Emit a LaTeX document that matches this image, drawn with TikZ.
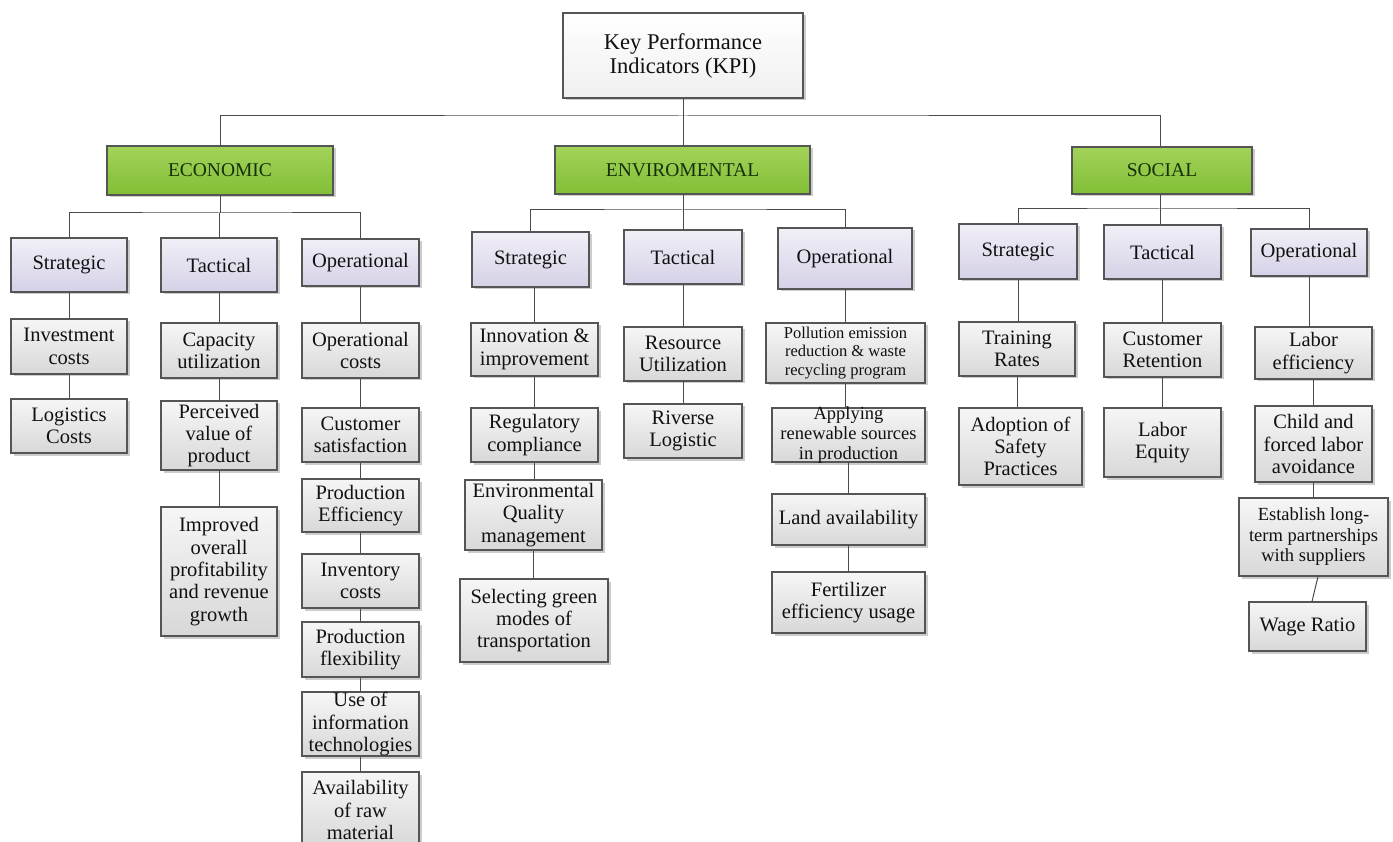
\documentclass[tikz,border=0pt]{standalone}
\usepackage{fontspec}
\setmainfont{Liberation Serif}
\usetikzlibrary{shadows}
\definecolor{bordc}{HTML}{555555}
\definecolor{linec}{HTML}{4A4A4A}
\definecolor{txtc}{HTML}{111111}
\definecolor{grnT}{HTML}{A2D35A}
\definecolor{grnB}{HTML}{82BE36}
\definecolor{grntxt}{HTML}{18300A}
\definecolor{lavT}{HTML}{F1EFF7}
\definecolor{lavB}{HTML}{D6D1E7}
\definecolor{leafT}{HTML}{F6F6F6}
\definecolor{leafB}{HTML}{D8D8D8}
\tikzset{
  base/.style={draw=bordc, line width=1.1pt, inner sep=0pt,
    drop shadow={shadow xshift=2.5pt, shadow yshift=-2.5pt, opacity=0.2, fill=black}},
  kpibox/.style={base, top color=white, bottom color=gray!12, line width=1.6pt},
  pillar/.style={base, top color=grnT, bottom color=grnB},
  level/.style={base, top color=lavT, bottom color=lavB},
  leaf/.style={base, top color=leafT, bottom color=leafB},
  boxtext/.style={align=center, inner sep=0pt, text=txtc, font=\fontsize{20.5}{22.3}\selectfont},
  pillartext/.style={text=grntxt, font=\fontsize{19.5}{21}\selectfont},
  link/.style={draw=linec, line width=1pt},
}
\newcommand\kbox[8][]{%
  \pgfmathsetmacro\kcx{(#4+#6)/2}%
  \pgfmathsetmacro\kcy{(#5+#7)/2}%
  \pgfmathsetmacro\kw{#6-#4}%
  \pgfmathsetmacro\kh{#7-#5}%
  \node[#2, minimum width=\kw pt, minimum height=\kh pt] (#3) at (\kcx,\kcy) {};%
  \node[boxtext,#1] (#3-t) at (#3.center) {#8};}
\newcommand\chain[2]{\draw[link] (#1.south) -- (#1.south |- #2.north);}
\begin{document}
\begin{tikzpicture}[x=1pt,y=-1pt]
\useasboundingbox (0,0) rectangle (1393,842);
\clip (0,0) rectangle (1393,842);
\fill[white] (0,0) rectangle (1393,842);

% root and pillars
\kbox[font=\fontsize{22.5}{24}\selectfont]{kpibox}{kpi}{563}{13}{803}{98}{Key Performance\\Indicators (KPI)}
\kbox[pillartext]{pillar}{eco}{107}{146}{333}{195}{ECONOMIC}
\kbox[pillartext]{pillar}{env}{555}{146}{810}{194}{ENVIROMENTAL}
\kbox[pillartext]{pillar}{soc}{1072}{147}{1252}{194}{SOCIAL}

% level 2
\kbox{level}{es}{11}{238}{127}{292}{Strategic}
\kbox{level}{et}{161}{238}{277}{292}{Tactical}
\kbox{level}{eo}{302}{239}{419}{286}{Operational}
\kbox{level}{ns}{472}{232}{589}{287}{Strategic}
\kbox{level}{nt}{624}{230}{742}{284}{Tactical}
\kbox{level}{no}{778}{228}{912}{289}{Operational}
\kbox{level}{ss}{959}{224}{1077}{279}{Strategic}
\kbox{level}{st}{1104}{225}{1221}{279}{Tactical}
\kbox{level}{so}{1251}{229}{1367}{276}{Operational}

% economic leaves
\kbox{leaf}{e1}{11}{319}{127}{374}{Investment\\costs}
\kbox{leaf}{e2}{11}{399}{127}{453}{Logistics\\Costs}
\kbox{leaf}{e3}{161}{323}{277}{378}{Capacity\\utilization}
\kbox{leaf}{e4}{161}{401}{277}{470}{Perceived\\value of\\product}
\kbox{leaf}{e5}{161}{507}{277}{636}{Improved\\overall\\profitability\\and revenue\\growth}
\kbox{leaf}{e6}{302}{323}{419}{378}{Operational\\costs}
\kbox{leaf}{e7}{302}{408}{419}{462}{Customer\\satisfaction}
\kbox{leaf}{e8}{302}{479}{419}{532}{Production\\Efficiency}
\kbox{leaf}{e9}{302}{554}{419}{608}{Inventory\\costs}
\kbox{leaf}{e10}{302}{622}{419}{677}{Production\\flexibility}
\kbox{leaf}{e11}{302}{692}{419}{756}{Use of\\information\\technologies}
\kbox{leaf}{e12}{302}{772}{419}{848}{Availability\\of raw\\material}

% environmental leaves
\kbox{leaf}{n1}{471}{323}{598}{376}{Innovation \&\\improvement}
\kbox{leaf}{n2}{471}{408}{598}{462}{Regulatory\\compliance}
\kbox{leaf}{n3}{465}{480}{602}{550}{Environmental\\Quality\\management}
\kbox{leaf}{n4}{460}{579}{608}{662}{Selecting green\\modes of\\transportation}
\kbox{leaf}{n5}{624}{327}{742}{381}{Resource\\Utilization}
\kbox{leaf}{n6}{624}{404}{742}{458}{Riverse\\Logistic}
\kbox[font=\fontsize{16.5}{18.3}\selectfont]{leaf}{n7}{766}{323}{925}{383}{Pollution emission\\reduction \& waste\\recycling program}
\kbox[font=\fontsize{18.5}{20}\selectfont]{leaf}{n8}{772}{408}{925}{462}{Applying\\renewable sources\\in production}
\kbox{leaf}{n9}{772}{494}{925}{545}{Land availability}
\kbox{leaf}{n10}{772}{572}{925}{633}{Fertilizer\\efficiency usage}

% social leaves
\kbox{leaf}{s1}{959}{322}{1075}{376}{Training\\Rates}
\kbox{leaf}{s2}{959}{408}{1082}{485}{Adoption of\\Safety\\Practices}
\kbox{leaf}{s3}{1104}{323}{1221}{377}{Customer\\Retention}
\kbox{leaf}{s4}{1104}{408}{1221}{477}{Labor\\Equity}
\kbox{leaf}{s5}{1255}{327}{1372}{379}{Labor\\efficiency}
\kbox{leaf}{s6}{1255}{406}{1372}{482}{Child and\\forced labor\\avoidance}
\kbox[font=\fontsize{18.5}{20.5}\selectfont]{leaf}{s7}{1239}{498}{1388}{576}{Establish long-\\term partnerships\\with suppliers}
\kbox{leaf}{s8}{1249}{602}{1366}{651}{Wage Ratio}

% top connectors
\coordinate (tb) at (683,116);
\draw[link] (kpi.south) -- (tb);
\draw[link] (eco.north) |- (tb) -| ([xshift=-2pt]soc.north);
\draw[link] (tb) -- (tb |- env.north);

% pillar buses
\coordinate (eb) at (220,213);
\draw[link] (eco.south) -- (eb);
\draw[link] (es.north) |- (eb) -| (eo.north);
\draw[link] (et.north) -- (et.north |- eb);

\coordinate (nb) at (683,210);
\draw[link] (nb |- env.south) -- (nb);
\draw[link] (ns.north) |- (nb) -| (no.north);
\draw[link] (nt.north) -- (nt.north |- nb);

\coordinate (sb) at (1160,209);
\draw[link] ([xshift=-2pt]soc.south) -- (sb);
\draw[link] (ss.north) |- (sb) -| (so.north);
\draw[link] (sb) -- (sb |- st.north);

% chains
\chain{es}{e1}\chain{e1}{e2}
\chain{et}{e3}\chain{e3}{e4}\chain{e4}{e5}
\chain{eo}{e6}\chain{e6}{e7}\chain{e7}{e8}\chain{e8}{e9}\chain{e9}{e10}\chain{e10}{e11}\chain{e11}{e12}
\draw[link] (n1.north |- ns.south) -- (n1.north);
\chain{n1}{n2}\chain{n2}{n3}\chain{n3}{n4}
\chain{nt}{n5}\chain{n5}{n6}
\chain{no}{n7}\chain{n7}{n8}
\draw[link] (n9.north |- n8.south) -- (n9.north);
\chain{n9}{n10}
\chain{ss}{s1}\chain{s1}{s2}
\chain{st}{s3}\chain{s3}{s4}
\chain{so}{s5}\chain{s5}{s6}\chain{s6}{s7}
\draw[link] ([xshift=4.5pt]s7.south) -- ([xshift=4.5pt]s8.north);
\end{tikzpicture}
\end{document}
